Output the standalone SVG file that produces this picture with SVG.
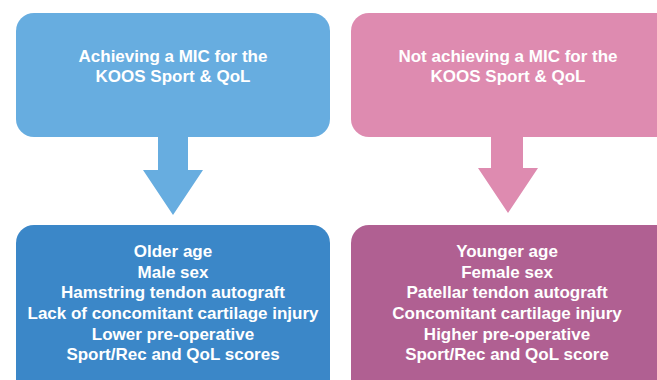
<svg xmlns="http://www.w3.org/2000/svg" width="657" height="380" viewBox="0 0 657 380">
<style>
text{font-family:"Liberation Sans",Arial,sans-serif;font-weight:bold;fill:#fff;text-anchor:middle;font-size:17px}
</style>
<rect width="657" height="380" fill="#fff"/>
<g id="top-left"><rect x="16" y="13" width="314" height="124" rx="18" fill="#67ADE0"/>
<text x="173" y="62">Achieving a MIC for the</text><text x="173" y="82">KOOS Sport &amp; QoL</text></g>
<g id="top-right"><rect x="351" y="13" width="330" height="124" rx="18" fill="#DE8BB0"/>
<text x="508" y="62">Not achieving a MIC for the</text><text x="508" y="82">KOOS Sport &amp; QoL</text></g>
<g id="connectors">
<polygon points="158,136 188,136 188,170 203,170 173,215 143,170 158,170" fill="#67ADE0"/>
<polygon points="491,136 523,136 523,168 538,168 508,213 478,168 491,168" fill="#DE8BB0"/>
</g>
<g id="bottom-left"><rect x="16" y="225" width="314" height="180" rx="18" fill="#3B87C8"/>
<text x="173" y="257">Older age</text><text x="173" y="278">Male sex</text><text x="173" y="298">Hamstring tendon autograft</text><text x="173" y="319">Lack of concomitant cartilage injury</text><text x="173" y="340">Lower pre-operative</text><text x="173" y="360">Sport/Rec and QoL scores</text></g>
<g id="bottom-right"><rect x="351" y="225" width="330" height="180" rx="18" fill="#B06092"/>
<text x="507" y="257">Younger age</text><text x="507" y="278">Female sex</text><text x="507" y="298">Patellar tendon autograft</text><text x="507" y="319">Concomitant cartilage injury</text><text x="507" y="340">Higher pre-operative</text><text x="507" y="360">Sport/Rec and QoL score</text></g>
</svg>
